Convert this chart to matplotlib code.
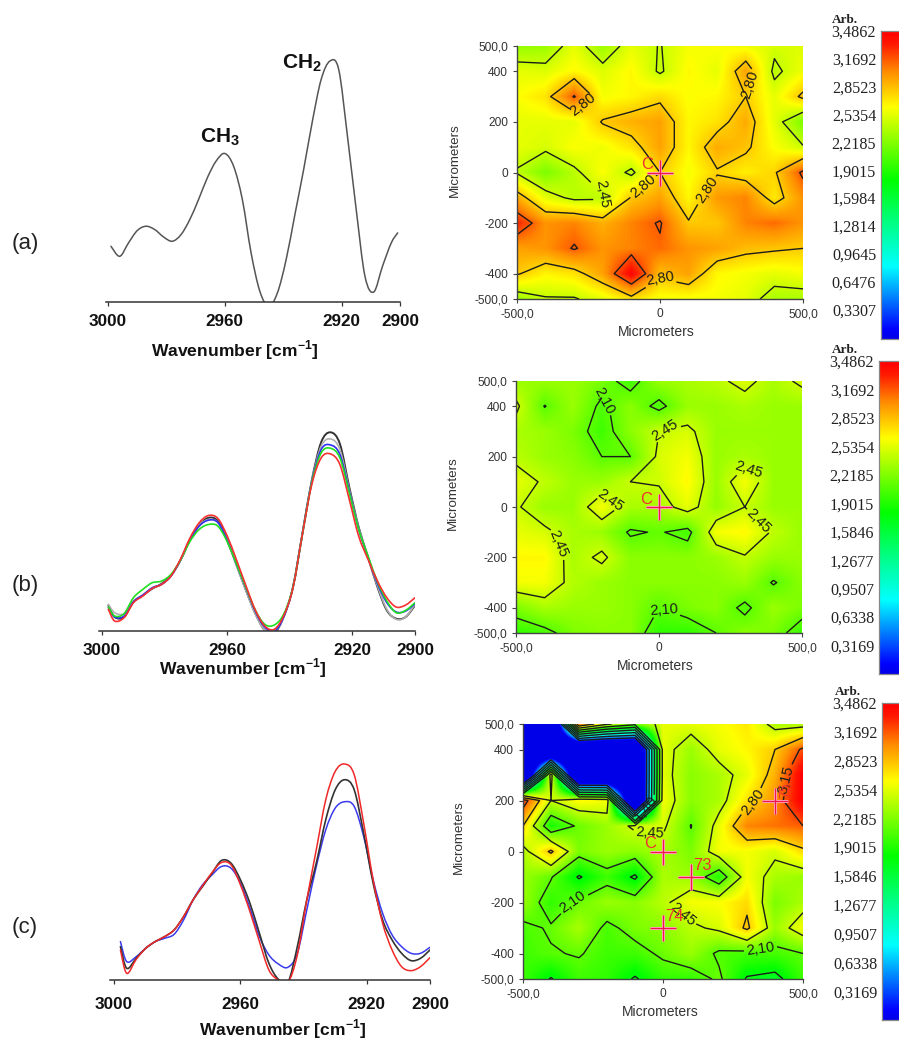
import matplotlib
matplotlib.use("Agg")
import matplotlib.pyplot as plt
from matplotlib.colors import LinearSegmentedColormap
from matplotlib.patches import PathPatch
from matplotlib.path import Path
import numpy as np

plt.rcParams["font.family"] = ["Liberation Sans", "DejaVu Sans"]
plt.rcParams["mathtext.fontset"] = "custom"
plt.rcParams["mathtext.rm"] = "Liberation Sans:bold"
plt.rcParams["mathtext.bf"] = "Liberation Sans:bold"

W, H = 899, 1039

# spectra, heights are relative absorbance
wn_a = [2999, 2996, 2993, 2990, 2987, 2984, 2981, 2978, 2975, 2972, 2969, 2966, 2963, 2960, 2957, 2954, 2951,
        2948, 2945, 2942, 2939, 2936, 2933, 2930, 2927, 2924, 2921, 2918, 2915, 2912, 2909, 2906, 2903, 2900.8]
wn = [2998, 2996, 2993, 2990, 2987, 2984, 2981, 2978, 2975, 2972, 2969, 2966, 2963, 2960, 2957, 2954, 2951,
      2948, 2945, 2942, 2939, 2936, 2933, 2930, 2927, 2924, 2921, 2918, 2915, 2912, 2909, 2906, 2903, 2900]

spec_a = [167, 137, 177, 214, 227, 217, 195, 182, 202, 247, 307, 372, 422, 445, 407, 307, 147,
          32, -13, 27, 127, 262, 397, 542, 667, 722, 697, 497, 277, 77, 30, 107, 177, 207]

b_black = [77, 42, 42, 87, 107, 127, 142, 167, 212, 272, 317, 340, 330, 272, 197, 122, 52,
           2, -8, 42, 132, 292, 452, 567, 597, 562, 432, 312, 222, 132, 62, 37, 42, 77]
b_grey = [80, 55, 52, 90, 108, 128, 140, 165, 212, 272, 317, 335, 326, 270, 195, 120, 50,
          2, -6, 42, 132, 292, 450, 555, 577, 545, 425, 310, 222, 135, 65, 35, 42, 80]
b_blue = [70, 42, 45, 88, 108, 130, 140, 165, 212, 272, 315, 333, 326, 272, 200, 128, 58,
          12, -2, 42, 132, 292, 448, 545, 559, 530, 420, 305, 222, 142, 85, 57, 60, 82]
b_green = [72, 45, 52, 100, 125, 145, 150, 170, 212, 268, 305, 320, 315, 268, 200, 130, 62,
           20, 18, 50, 132, 290, 445, 535, 549, 520, 415, 305, 225, 148, 90, 55, 62, 85]
b_red = [65, 30, 40, 85, 105, 128, 140, 165, 215, 278, 325, 347, 338, 285, 212, 135, 62,
         15, 5, 45, 130, 290, 440, 520, 532, 500, 395, 285, 215, 150, 100, 72, 78, 100]

c_black = [100, 35, 65, 95, 115, 130, 150, 190, 240, 280, 320, 358, 350, 300, 230, 140, 50,
           2, -8, 100, 240, 350, 480, 570, 600, 570, 440, 290, 180, 120, 80, 58, 65, 90]
c_blue = [115, 55, 70, 95, 115, 125, 137, 180, 240, 285, 315, 340, 335, 290, 215, 130, 75,
          48, 38, 80, 210, 340, 450, 515, 534, 520, 430, 300, 200, 135, 100, 80, 80, 98]
c_red = [90, 20, 62, 95, 115, 130, 150, 190, 240, 282, 322, 352, 345, 285, 205, 115, 30,
         0, -8, 75, 240, 390, 540, 625, 647, 615, 470, 300, 170, 90, 40, 28, 40, 67]

# maps, rows run from y=500 down to y=-500, columns from x=-500 to x=500
map_x = [-500, -400, -300, -200, -100, 0, 100, 200, 300, 400, 500]
map_y = [500, 400, 300, 200, 100, 0, -100, -200, -300, -400, -500]

map_a = [
    [2.28, 2.30, 2.55, 2.30, 2.55, 2.44, 2.60, 2.62, 2.58, 2.50, 2.52],
    [2.55, 2.52, 2.65, 2.52, 2.65, 2.42, 2.65, 2.55, 2.95, 2.40, 2.58],
    [2.62, 2.72, 3.17, 2.60, 2.65, 2.75, 2.62, 2.65, 2.80, 2.55, 2.85],
    [2.55, 2.55, 2.55, 2.82, 2.90, 2.95, 2.65, 2.72, 2.92, 2.55, 2.20],
    [2.55, 2.50, 2.62, 2.58, 2.72, 2.95, 2.65, 2.92, 2.84, 2.62, 2.47],
    [2.43, 2.20, 2.40, 2.62, 2.40, 2.80, 2.60, 2.78, 2.68, 2.77, 3.20],
    [2.92, 2.55, 2.40, 2.42, 2.82, 2.95, 2.65, 2.98, 3.05, 2.70, 3.00],
    [3.32, 3.00, 3.05, 2.90, 3.05, 3.17, 2.82, 2.82, 3.05, 3.12, 3.00],
    [2.95, 3.00, 3.17, 3.00, 3.05, 3.12, 3.00, 2.95, 2.86, 2.83, 2.80],
    [2.82, 2.66, 2.72, 2.95, 3.45, 2.85, 2.95, 2.65, 2.60, 2.55, 2.60],
    [2.30, 2.43, 2.43, 2.55, 2.72, 2.60, 2.60, 2.60, 2.55, 2.35, 2.35],
]
map_b = [
    [2.30, 2.30, 2.30, 2.20, 2.00, 2.30, 2.35, 2.40, 2.52, 2.35, 2.50],
    [2.50, 2.09, 2.30, 2.05, 2.25, 2.03, 2.30, 2.30, 2.35, 2.30, 2.30],
    [2.35, 2.30, 2.20, 2.00, 2.25, 2.45, 2.50, 2.30, 2.30, 2.30, 2.30],
    [2.40, 2.30, 2.25, 2.10, 2.10, 2.50, 2.60, 2.30, 2.35, 2.30, 2.30],
    [2.55, 2.42, 2.30, 2.30, 2.45, 2.47, 2.65, 2.30, 2.60, 2.30, 2.30],
    [2.48, 2.30, 2.30, 2.60, 2.35, 2.35, 2.55, 2.28, 2.45, 2.30, 2.30],
    [2.55, 2.50, 2.35, 2.30, 2.07, 2.12, 2.02, 2.60, 2.65, 2.42, 2.30],
    [2.65, 2.65, 2.35, 2.50, 2.25, 2.25, 2.25, 2.30, 2.43, 2.30, 2.30],
    [2.60, 2.60, 2.38, 2.30, 2.25, 2.25, 2.25, 2.25, 2.30, 2.08, 2.25],
    [2.20, 2.35, 2.30, 2.30, 2.25, 2.10, 2.20, 2.25, 2.04, 2.30, 2.20],
    [1.95, 2.03, 2.20, 2.25, 2.25, 1.95, 1.95, 2.10, 2.25, 2.20, 1.98],
]
map_c = [
    [-1.20, -1.20, 3.15, 2.50, 2.20, 2.55, 2.55, 2.60, 2.70, 2.35, 2.35],
    [-1.20, -1.20, -1.20, -1.20, -1.20, 2.55, 2.30, 2.55, 2.65, 2.80, 3.20],
    [-1.20, 2.60, -1.20, -1.20, -1.20, 2.55, 2.25, 2.35, 2.55, 2.90, 3.50],
    [3.30, 2.45, 2.65, 2.60, -1.20, 2.60, 2.25, 2.35, 2.72, 3.00, 3.50],
    [2.80, 1.85, 2.15, 2.30, 2.50, 2.50, 2.09, 2.55, 3.05, 3.10, 3.15],
    [2.35, 2.85, 2.20, 2.30, 2.25, 2.35, 2.20, 2.60, 2.60, 2.50, 2.75],
    [2.30, 2.12, 1.72, 2.00, 1.70, 2.35, 2.30, 1.90, 2.60, 2.35, 2.30],
    [2.30, 1.95, 2.15, 2.30, 2.25, 2.40, 2.60, 2.62, 2.75, 2.20, 2.35],
    [2.03, 2.13, 2.35, 2.03, 2.20, 2.25, 2.40, 2.50, 2.85, 2.30, 2.60],
    [2.00, 2.08, 2.12, 2.00, 2.00, 2.15, 2.30, 2.05, 2.02, 2.02, 2.10],
    [2.00, 1.73, 2.00, 1.95, 1.72, 1.95, 1.95, 2.15, 1.72, 1.65, 2.00],
]

levels = [0.35, 0.70, 1.05, 1.40, 1.75, 2.10, 2.45, 2.80, 3.15]
scale_a = [3.4862, 3.1692, 2.8523, 2.5354, 2.2185, 1.9015, 1.5984, 1.2814, 0.9645, 0.6476, 0.3307]
scale_bc = [3.4862, 3.1692, 2.8523, 2.5354, 2.2185, 1.9015, 1.5846, 1.2677, 0.9507, 0.6338, 0.3169]

labels_a = [(-262, 260), (-192, -75), (-58, -57), (163, -70), (302, 352), (-12, -386)]
labels_b = [(-192, 423), (16, 325), (-173, 21), (-357, -150), (16, -414), (318, 153), (347, -58)]
labels_c = [(-50, 50), (-325, -190), (336, 170), (80, -235), (348, -380), (443, 281), (-60, 170)]

cmap = LinearSegmentedColormap.from_list("scan", [
    (0.0, "#0000e8"), (0.03, "#0000ff"), (0.235, "#00ffff"), (0.38, "#00ff80"), (0.516, "#00ff00"),
    (0.755, "#ffff00"), (0.87, "#ff8c00"), (0.96, "#ff1800"), (1.0, "#ff0000")])


def comma(v, digits=2):
    return f"{v:.{digits}f}".replace(".", ",")


def px_axes(fig, x0, y0, x1, y1):
    return fig.add_axes([x0 / W, 1 - y1 / H, (x1 - x0) / W, (y1 - y0) / H])


def px_text(fig, x, y, s, **kw):
    fig.text(x / W, 1 - y / H, s, ha="center", va="center", **kw)


def curve(ax, x, y, **kw):
    # the spectra are smooth, so join the read points with bezier segments
    pts = np.column_stack([x, y]).astype(float)
    ext = np.vstack([pts[0], pts, pts[-1]])
    verts = [pts[0]]
    for i in range(1, len(ext) - 2):
        verts.append(ext[i] + (ext[i + 1] - ext[i - 1]) / 6)
        verts.append(ext[i + 1] - (ext[i + 2] - ext[i]) / 6)
        verts.append(ext[i + 1])
    codes = [Path.MOVETO] + [Path.CURVE4] * (len(verts) - 1)
    ax.add_patch(PathPatch(Path(verts, codes), fill=False, capstyle="round", **kw))


def spectrum_axes(fig, box, xleft, ytop, label_xy, pad=5.5):
    ax = px_axes(fig, *box)
    ax.set_xlim(xleft, 2900)
    ax.set_ylim(0, ytop)
    for s in ["top", "left", "right"]:
        ax.spines[s].set_visible(False)
    ax.spines["bottom"].set_color("#333333")
    ax.spines["bottom"].set_linewidth(1.1)
    ax.set_yticks([])
    ax.set_xticks([3000, 2960, 2920, 2900])
    ax.tick_params(axis="x", length=3, width=0.9, color="#333333", labelsize=12.3, pad=pad)
    for t in ax.get_xticklabels():
        t.set_fontweight("bold")
        t.set_color("#111111")
    px_text(fig, *label_xy, "Wavenumber [cm$^{-1}$]", fontsize=12.6, fontweight="bold", color="#111111")
    return ax


def map_axes(fig, box, data, yl_px, xl_px, positions, crosses, bar_box, arb_px, scale):
    ax = px_axes(fig, *box)
    ax.imshow(data, cmap=cmap, vmin=0, vmax=3.4862, extent=(-550, 550, -550, 550),
              interpolation="bilinear", aspect="auto")
    cs = ax.contour(map_x, map_y, data, levels=levels, colors="#1c1c1c", linewidths=1.0)
    ax.clabel(cs, fmt=comma, manual=positions, inline=True, inline_spacing=1, fontsize=10.5)
    ax.set_xlim(-500, 500)
    ax.set_ylim(-500, 500)
    for s in ["top", "right"]:
        ax.spines[s].set_visible(False)
    for s in ["left", "bottom"]:
        ax.spines[s].set_color("#444444")
        ax.spines[s].set_linewidth(1.0)
    ax.set_xticks([-500, 0, 500], ["-500,0", "0", "500,0"])
    ax.set_yticks([500, 400, 200, 0, -200, -400, -500], ["500,0", "400", "200", "0", "-200", "-400", "-500,0"])
    ax.tick_params(length=3, width=0.8, color="#444444", labelsize=8.6, pad=3.5, labelcolor="#333333")
    for x, y in crosses:
        ax.plot(x, y, "+", ms=19, mew=2.2, color="#ffa8c0", zorder=5)
        ax.plot(x, y, "+", ms=19, mew=0.9, color="#f01848", zorder=6)
    px_text(fig, *yl_px, "Micrometers", fontsize=9.6, rotation=90, color="#333333")
    px_text(fig, *xl_px, "Micrometers", fontsize=10, color="#333333")

    bar = px_axes(fig, *bar_box)
    bar.imshow(np.linspace(3.4862, 0, 256).reshape(-1, 1), cmap=cmap, vmin=0, vmax=3.4862,
               extent=(0, 1, 0, 3.4862), aspect="auto")
    bar.set_xticks([])
    bar.set_yticks(scale, [comma(v, 4) for v in scale], family=["Liberation Serif", "DejaVu Serif"])
    bar.tick_params(axis="y", length=0, labelsize=11.6, pad=3.5, labelcolor="#222222")
    for s in bar.spines.values():
        s.set_color("#888888")
        s.set_linewidth(0.9)
    px_text(fig, *arb_px, "Arb.", fontsize=9.5, fontweight="bold", family=["Liberation Serif", "DejaVu Serif"],
            color="#222222")
    return ax


fig = plt.figure(figsize=(W / 100, H / 100), dpi=100, facecolor="white")

# spectra
ax = spectrum_axes(fig, (106, 35, 400, 302), 3000.7, 800, (235, 350))
curve(ax, wn_a, spec_a, edgecolor="#555555", lw=1.1)
px_text(fig, 220, 137, "CH$_{3}$", fontsize=15, fontweight="bold", color="#111111")
px_text(fig, 302, 63, "CH$_{2}$", fontsize=15, fontweight="bold", color="#111111")

ax = spectrum_axes(fig, (99, 418, 415, 631), 3001, 640, (243, 668))
curve(ax, wn, b_black, edgecolor="#333333", lw=1.4)
curve(ax, wn, b_grey, edgecolor="#b0b0b0", lw=1.2)
curve(ax, wn, b_blue, edgecolor="#3030f0", lw=1.2)
curve(ax, wn, b_green, edgecolor="#20e020", lw=1.2)
curve(ax, wn, b_red, edgecolor="#f83030", lw=1.2)

ax = spectrum_axes(fig, (110, 753, 430, 980), 3001.3, 680, (283, 1029), pad=9)
curve(ax, wn, c_blue, edgecolor="#3a3af0", lw=1.1)
curve(ax, wn, c_black, edgecolor="#333333", lw=1.2)
curve(ax, wn, c_red, edgecolor="#f02828", lw=1.1)

for y, s in [(243, "(a)"), (585, "(b)"), (927, "(c)")]:
    px_text(fig, 25, y, s, fontsize=16, color="#222222")

# maps
ax = map_axes(fig, (517, 46, 803, 299), map_a, (455, 160), (656, 332), labels_a, [(0, 0)],
              (881, 31, 900, 339), (845, 20), scale_a)
ax.text(-45, 30, "C", color="#f03030", fontsize=12, ha="center", va="center", zorder=7)

ax = map_axes(fig, (516, 381, 802, 633), map_b, (453, 493), (655, 666), labels_b, [(0, 0)],
              (879, 361, 900, 674), (845, 350), scale_bc)
ax.text(-45, 30, "C", color="#f03030", fontsize=12, ha="center", va="center", zorder=7)

crosses_c = [(0, 0), (100, -100), (0, -300), (400, 200)]
ax = map_axes(fig, (523, 724, 803, 979), map_c, (459, 837), (660, 1012), labels_c, crosses_c,
              (882, 703, 900, 1020), (848, 692), scale_bc)
ax.text(-45, 30, "C", color="#f03030", fontsize=12, ha="center", va="center", zorder=7)
ax.text(142, -55, "73", color="#f03030", fontsize=12, ha="center", va="center", zorder=7)
ax.text(40, -255, "74", color="#f03030", fontsize=12, ha="center", va="center", zorder=7)
ax.text(437, 240, "75", color="#f03030", fontsize=10, rotation=90, ha="center", va="center", zorder=7)

fig.savefig("out.png", dpi=100)
